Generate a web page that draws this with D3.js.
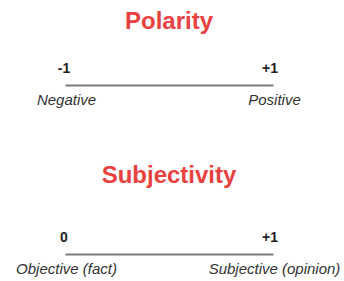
<!DOCTYPE html>
<html>
<head>
<meta charset="utf-8">
<script src="https://cdn.jsdelivr.net/npm/d3@7"></script>
<style>
  body { margin: 0; background: #fff; }
  svg { display: block; }
</style>
</head>
<body>
<svg id="chart" width="344" height="281"></svg>
<script>
// scale titles
const titles = ["Polarity", "Subjectivity"];
// domain of each scale
const domains = [[-1, 1], [0, 1]];
// tick labels at the ends
const tickLabels = [["-1", "+1"], ["0", "+1"]];
// words under the ends
const endLabels = [["Negative", "Positive"], ["Objective (fact)", "Subjective (opinion)"]];

let w = 344;
let h = 281;
let svg = d3.select("#chart");

// vertical placement of each block
const blocks = [
  { titleY: 29, lineY: 85 },
  { titleY: 183, lineY: 254 }
];

titles.forEach(function(t, i) {
  let b = blocks[i];
  let g = svg.append("g");

  g.append("text")
    .attr("x", 169)
    .attr("y", b.titleY)
    .attr("text-anchor", "middle")
    .attr("font-family", "Liberation Sans, Arial, sans-serif")
    .attr("font-weight", "bold")
    .attr("font-size", 24)
    .attr("fill", "#e8413f")
    .text(t);

  let xScale = d3.scaleLinear()
    .domain(domains[i])
    .range([65, 273]);

  let axis = d3.axisTop()
    .scale(xScale)
    .tickValues(domains[i])
    .tickSize(0)
    .tickFormat(function(d, j) { return tickLabels[i][j]; });

  let ax = g.append("g")
    .attr("transform", "translate(0," + b.lineY + ")")
    .call(axis);

  ax.select(".domain")
    .attr("stroke", "#7a7a7a")
    .attr("stroke-width", 2);

  ax.selectAll(".tick text")
    .attr("y", -12)
    .attr("dy", 0)
    .attr("dx", function(d, j) { return j === 0 ? -1.5 : -3.5; })
    .attr("font-family", "Liberation Sans, Arial, sans-serif")
    .attr("font-weight", "bold")
    .attr("font-size", 14)
    .attr("fill", "#222");

  g.selectAll(".end-label")
    .data(domains[i])
    .enter()
    .append("text")
    .attr("class", "end-label")
    .attr("x", function(d) { return xScale(d) + 1.5; })
    .attr("y", b.lineY + 20)
    .attr("text-anchor", "middle")
    .attr("font-family", "Liberation Sans, Arial, sans-serif")
    .attr("font-style", "italic")
    .attr("font-size", 15)
    .attr("fill", "#333")
    .text(function(d, j) { return endLabels[i][j]; });
});
</script>
</body>
</html>
